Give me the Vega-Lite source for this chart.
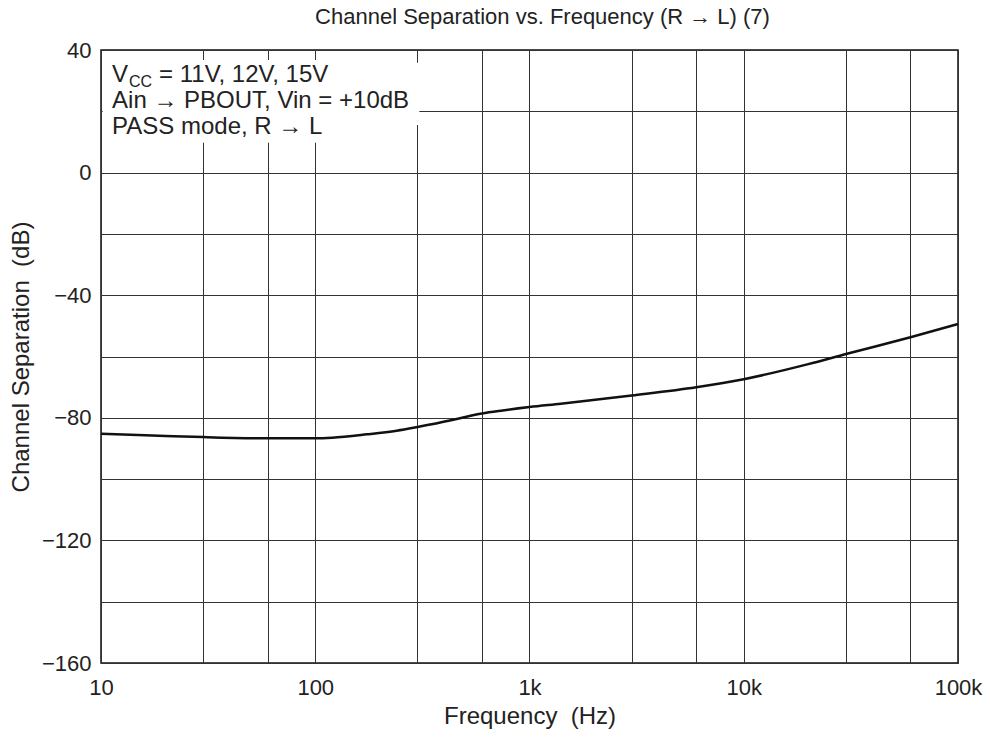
{
  "$schema": "https://vega.github.io/schema/vega-lite/v6.json",
  "width": 857,
  "height": 613,
  "autosize": {"type": "none"},
  "padding": {"left": 101, "top": 50, "right": 32, "bottom": 77},
  "background": "white",
  "title": {"text": "Channel Separation vs. Frequency (R \u2192 L) (7)", "fontSize": 22, "font": "Liberation Sans", "fontWeight": "normal", "color": "#222", "offset": 10, "dx": 13, "anchor": "middle"},
  "config": {
    "view": {"stroke": "#111", "strokeWidth": 1.5},
    "axis": {"labelFont": "Liberation Sans", "titleFont": "Liberation Sans", "labelFontSize": 22, "titleFontSize": 24, "titleFontWeight": "normal", "labelColor": "#222", "titleColor": "#222", "gridColor": "#333", "gridWidth": 1, "gridOpacity": 1, "ticks": false, "domain": false, "labelFlush": false, "labelOverlap": false}
  },
  "data": {"values": [
    {"freq": 10, "sep": -85.2},
    {"freq": 20, "sep": -85.9},
    {"freq": 30, "sep": -86.3},
    {"freq": 60, "sep": -86.7},
    {"freq": 100, "sep": -86.7},
    {"freq": 120, "sep": -86.5},
    {"freq": 174, "sep": -85.4},
    {"freq": 240, "sep": -84.2},
    {"freq": 300, "sep": -83.0},
    {"freq": 425, "sep": -80.9},
    {"freq": 490, "sep": -79.9},
    {"freq": 600, "sep": -78.6},
    {"freq": 750, "sep": -77.6},
    {"freq": 1000, "sep": -76.5},
    {"freq": 1400, "sep": -75.4},
    {"freq": 3000, "sep": -72.7},
    {"freq": 6000, "sep": -70.0},
    {"freq": 10000, "sep": -67.4},
    {"freq": 20000, "sep": -62.5},
    {"freq": 30000, "sep": -59.2},
    {"freq": 60000, "sep": -53.7},
    {"freq": 100000, "sep": -49.4}
  ]},
  "layer": [
    {
      "mark": {"type": "line", "color": "#111", "strokeWidth": 2.5, "interpolate": "monotone"},
      "encoding": {
        "x": {"field": "freq", "type": "quantitative", "scale": {"type": "log", "domain": [10, 100000], "nice": false},
          "axis": {"title": "Frequency\u00a0\u00a0(Hz)", "titlePadding": 6, "labelPadding": 14, "grid": true,
            "values": [10, 30, 60, 100, 300, 600, 1000, 3000, 6000, 10000, 30000, 60000, 100000],
            "labelExpr": "datum.value == 10 ? '10' : datum.value == 100 ? '100' : datum.value == 1000 ? '1k' : datum.value == 10000 ? '10k' : datum.value == 100000 ? '100k' : ''"}},
        "y": {"field": "sep", "type": "quantitative", "scale": {"domain": [-160, 40], "nice": false},
          "axis": {"title": "Channel Separation\u00a0\u00a0(dB)", "titlePadding": 8, "labelPadding": 10, "grid": true,
            "values": [-160, -140, -120, -100, -80, -60, -40, -20, 0, 20, 40],
            "labelExpr": "datum.value % 40 == 0 ? replace(format(datum.value, 'd'), '-', '\u2212') : ''"}}
      }
    },
    {
      "data": {"values": [{}]},
      "mark": {"type": "rect", "fill": "white", "strokeWidth": 0},
      "encoding": {"x": {"datum": 10.2, "type": "quantitative"}, "x2": {"datum": 110}, "y": {"datum": 36.7, "type": "quantitative"}, "y2": {"datum": 9.7}}
    },
    {
      "data": {"values": [{}]},
      "mark": {"type": "rect", "fill": "white", "strokeWidth": 0},
      "encoding": {"x": {"datum": 10.2, "type": "quantitative"}, "x2": {"datum": 306}, "y": {"datum": 35.8, "type": "quantitative"}, "y2": {"datum": 15.5}}
    },
    {
      "data": {"values": [{}]},
      "mark": {"type": "text", "align": "left", "baseline": "alphabetic", "font": "Liberation Sans", "fontSize": 24, "fontWeight": "normal", "fill": "#222"},
      "encoding": {"x": {"datum": 11.26, "type": "quantitative"}, "y": {"datum": 29.56, "type": "quantitative"}, "text": {"value": "V"}}
    },
    {
      "data": {"values": [{}]},
      "mark": {"type": "text", "align": "left", "baseline": "alphabetic", "font": "Liberation Sans", "fontSize": 16, "fontWeight": "normal", "fill": "#222", "dx": 17, "dy": 5},
      "encoding": {"x": {"datum": 11.26, "type": "quantitative"}, "y": {"datum": 29.56, "type": "quantitative"}, "text": {"value": "CC"}}
    },
    {
      "data": {"values": [{}]},
      "mark": {"type": "text", "align": "left", "baseline": "alphabetic", "font": "Liberation Sans", "fontSize": 24, "fontWeight": "normal", "fill": "#222", "dx": 47},
      "encoding": {"x": {"datum": 11.26, "type": "quantitative"}, "y": {"datum": 29.56, "type": "quantitative"}, "text": {"value": "= 11V, 12V, 15V"}}
    },
    {
      "data": {"values": [{}]},
      "mark": {"type": "text", "align": "left", "baseline": "alphabetic", "font": "Liberation Sans", "fontSize": 24, "fontWeight": "normal", "fill": "#222"},
      "encoding": {"x": {"datum": 11.26, "type": "quantitative"}, "y": {"datum": 21.08, "type": "quantitative"}, "text": {"value": "Ain \u2192 PBOUT, Vin = +10dB"}}
    },
    {
      "data": {"values": [{}]},
      "mark": {"type": "text", "align": "left", "baseline": "alphabetic", "font": "Liberation Sans", "fontSize": 24, "fontWeight": "normal", "fill": "#222"},
      "encoding": {"x": {"datum": 11.26, "type": "quantitative"}, "y": {"datum": 12.59, "type": "quantitative"}, "text": {"value": "PASS mode, R \u2192 L"}}
    }
  ]
}
